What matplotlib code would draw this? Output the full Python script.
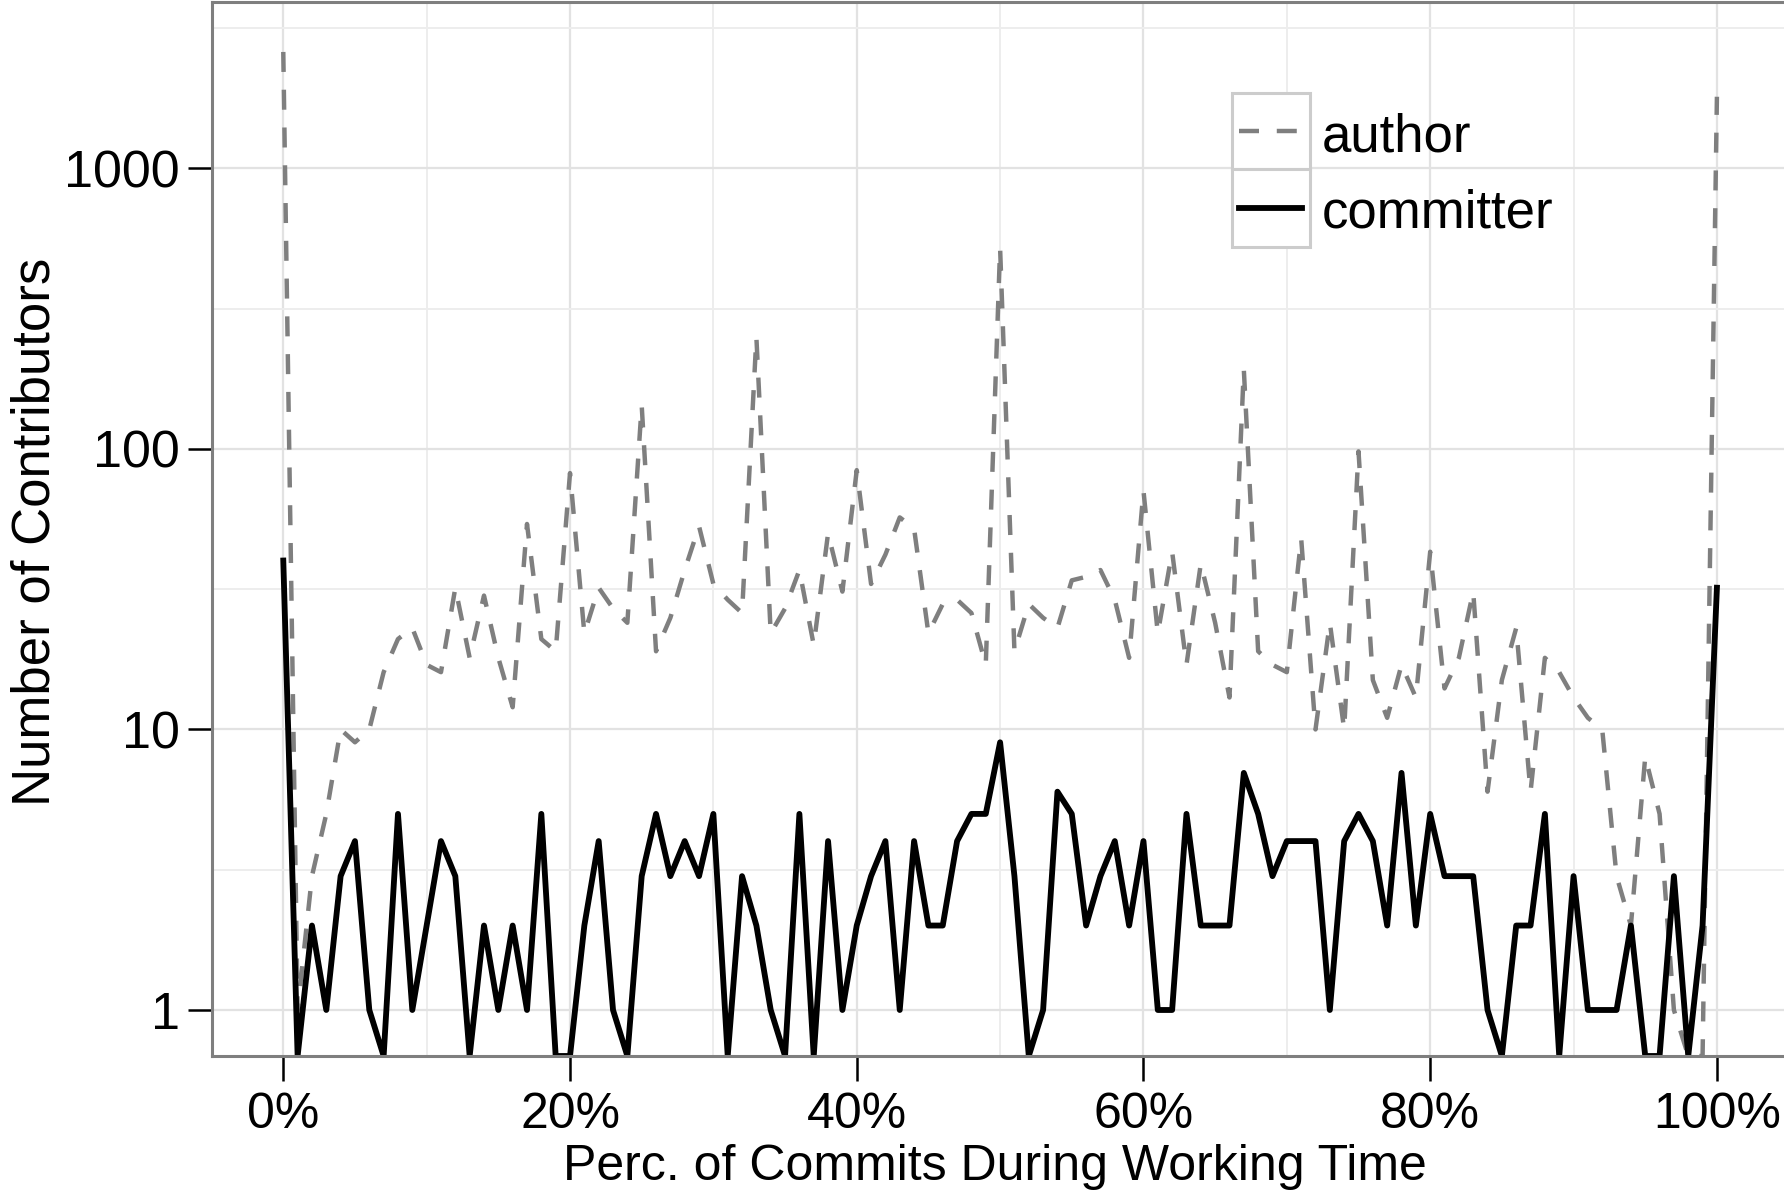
import matplotlib
matplotlib.use('Agg')
import matplotlib.pyplot as plt
from matplotlib.lines import Line2D
from matplotlib.patches import Rectangle
from matplotlib.ticker import FixedLocator

# share of commits made during working time (0..100 %)
pct = list(range(0, 101))

# number of contributors per percentage bucket
author = [2600, 1, 3, 5, 10, 9, 10, 16, 21, 23, 17,
          16, 32, 18, 30, 18, 12, 54, 21, 19, 82,
          22, 32, 27, 24, 143, 19, 25, 37, 53, 33,
          29, 26, 250, 22, 27, 37, 20, 50, 31, 84,
          33, 42, 57, 52, 22, 28, 29, 26, 17, 520,
          19, 28, 25, 23, 34, 35, 37, 29, 18, 71,
          22, 43, 17, 39, 24, 13, 192, 19, 17, 16,
          48, 10, 24, 10, 98, 15, 11, 17, 13, 43,
          14, 18, 31, 6, 15, 23, 6, 18, 16, 13,
          11, 10, 3, 2, 8, 5, 1, 0, 0, 1800]

committer = [40, 0, 2, 1, 3, 4, 1, 0, 5, 1, 2,
             4, 3, 0, 2, 1, 2, 1, 5, 0, 0,
             2, 4, 1, 0, 3, 5, 3, 4, 3, 5,
             0, 3, 2, 1, 0, 5, 0, 4, 1, 2,
             3, 4, 1, 4, 2, 2, 4, 5, 5, 9,
             3, 0, 1, 6, 5, 2, 3, 4, 2, 4,
             1, 1, 5, 2, 2, 2, 7, 5, 3, 4,
             4, 4, 1, 4, 5, 4, 2, 7, 2, 5,
             3, 3, 3, 1, 0, 2, 2, 5, 0, 3,
             1, 1, 1, 2, 0, 0, 3, 0, 2, 32]

x_ticks = [0, 20, 40, 60, 80, 100]
x_labels = ['0%', '20%', '40%', '60%', '80%', '100%']
y_ticks = [1, 10, 100, 1000]
y_labels = ['1', '10', '100', '1000']

plt.rcParams['font.family'] = ['Liberation Sans', 'DejaVu Sans']

W, H = 1784, 1191
fig = plt.figure(figsize=(W / 100, H / 100), dpi=100)
fig.patch.set_facecolor('white')
ax = fig.add_axes([211.6 / W, 1 - 1056 / H, 1577 / W, 1054 / H])

ylo, yhi = 10 ** -0.164, 10 ** 3.593


def on_log(vals):
    # zero counts sit on the lower panel edge, like -Inf on a log scale
    return [v if v > 0 else ylo for v in vals]


author_lw, committer_lw = 3.2, 4.2
dash = (0, (4.5, 4.0))
ax.plot(pct, on_log(author), color='#7f7f7f', lw=author_lw, linestyle=dash)
ax.plot(pct, on_log(committer), color='black', lw=committer_lw)

ax.set_yscale('log')
ax.set_xlim(-5, 105)
ax.set_ylim(ylo, yhi)
ax.set_xticks(x_ticks)
ax.set_xticklabels(x_labels)
ax.set_yticks(y_ticks)
ax.set_yticklabels(y_labels)
ax.xaxis.set_minor_locator(FixedLocator([10, 30, 50, 70, 90]))
ax.yaxis.set_minor_locator(FixedLocator([10 ** 0.5, 10 ** 1.5, 10 ** 2.5, 10 ** 3.5]))
ax.tick_params(which='minor', length=0)
ax.tick_params(axis='y', which='major', length=17, width=1.8, color='black',
               labelsize=37.5, pad=6)
ax.tick_params(axis='x', which='major', length=18, width=1.8, color='black',
               labelsize=36, pad=8)

ax.grid(True, which='major', color='#e2e2e2', lw=1.6)
ax.grid(True, which='minor', color='#ededed', lw=1.4)
ax.set_axisbelow(True)
for s in ax.spines.values():
    s.set_color('#7f7f7f')
    s.set_linewidth(2.2)

ax.set_xlabel('Perc. of Commits During Working Time', fontsize=36)
ax.xaxis.set_label_coords(0.497, -0.0835)
ax.xaxis.label.set_va('top')
ax.set_ylabel('Number of Contributors', fontsize=38)
ax.yaxis.set_label_coords(-0.0961, 0.497)


# legend keys drawn in pixel positions of the figure
def fx(px):
    return px / W


def fy(py):
    return 1 - py / H


for top, bottom in [(93, 169), (169, 247)]:
    fig.add_artist(Rectangle((fx(1232), fy(bottom)), fx(1310) - fx(1232),
                             fy(top) - fy(bottom), transform=fig.transFigure,
                             facecolor='white', edgecolor='#cccccc', lw=2.2))
fig.add_artist(Line2D([fx(1239), fx(1297)], [fy(131), fy(131)],
                      transform=fig.transFigure, color='#7f7f7f', lw=author_lw,
                      linestyle=dash))
fig.add_artist(Line2D([fx(1239), fx(1302)], [fy(208), fy(208)],
                      transform=fig.transFigure, color='black', lw=committer_lw))
fig.text(fx(1322), fy(152), 'author', fontsize=38, va='baseline')
fig.text(fx(1322), fy(227), 'committer', fontsize=38, va='baseline')

fig.savefig('out.png', dpi=100)
